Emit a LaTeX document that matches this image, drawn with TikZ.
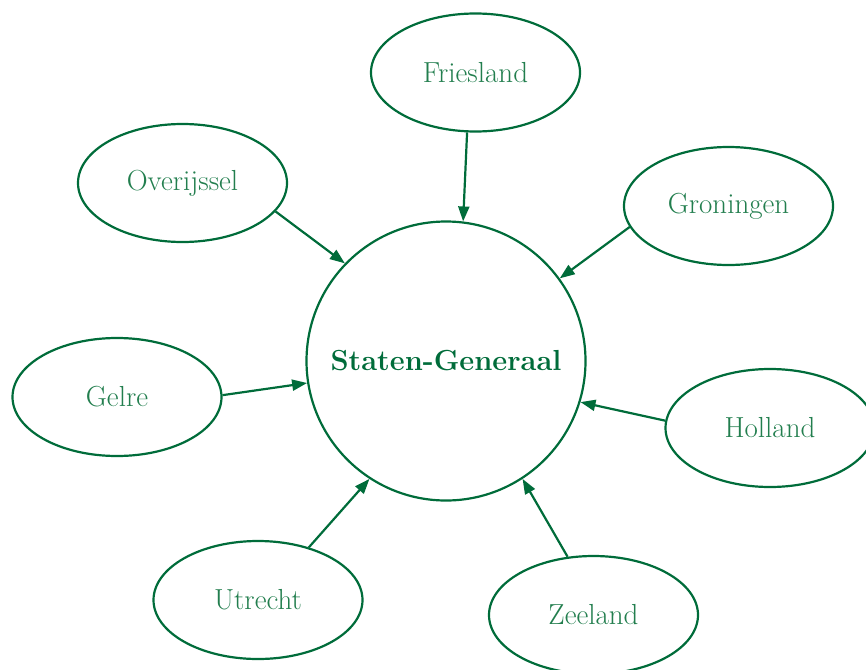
\documentclass[tikz,border=0pt]{standalone}
\usepackage{tikz}
\usetikzlibrary{shapes.geometric}
\usetikzlibrary{arrows.meta}
\definecolor{sgline}{RGB}{0,108,58}
\definecolor{sgtext}{RGB}{34,126,78}

\begin{document}
\begin{tikzpicture}[x=1pt, y=-1pt,
    gewest/.style={ellipse, draw=sgline, line width=2.2pt, minimum width=209pt, minimum height=118pt, inner sep=0pt, text=sgtext, font=\fontsize{29}{34}\selectfont},
    zetel/.style={circle, draw=sgline, line width=2.2pt, minimum size=279pt, inner sep=0pt, text=sgline, font=\fontsize{29}{34}\selectfont\bfseries},
    stem/.style={-{Triangle[length=15pt, width=11pt]}, sgline, line width=2.2pt}]
            % Frame
            \useasboundingbox (0,0) rectangle (866,669);

            % Centre
            \node[zetel] (sg) at (446,361) {Staten-Generaal};

            % Provinces
            \node[gewest] (friesland) at (475.5,72.5) {Friesland};
            \node[gewest] (overijssel) at (182.5,183) {Overijssel};
            \node[gewest] (groningen) at (728.5,206) {Groningen};
            \node[gewest] (gelre) at (117,397) {Gelre};
            \node[gewest] (holland) at (770,428) {Holland};
            \node[gewest] (utrecht) at (258,600) {Utrecht};
            \node[gewest] (zeeland) at (593.5,615) {Zeeland};

            % Arrows (province angle / centre angle)
            \foreach \p/\a/\b in {friesland/-98/83, overijssel/-17/136, groningen/192/36,
                                  gelre/1/189.5, holland/176.7/-17.8, utrecht/46/237, zeeland/114/-57.4}
                \draw[stem] (\p.\a) -- (sg.\b);

        \end{tikzpicture}
\end{document}
